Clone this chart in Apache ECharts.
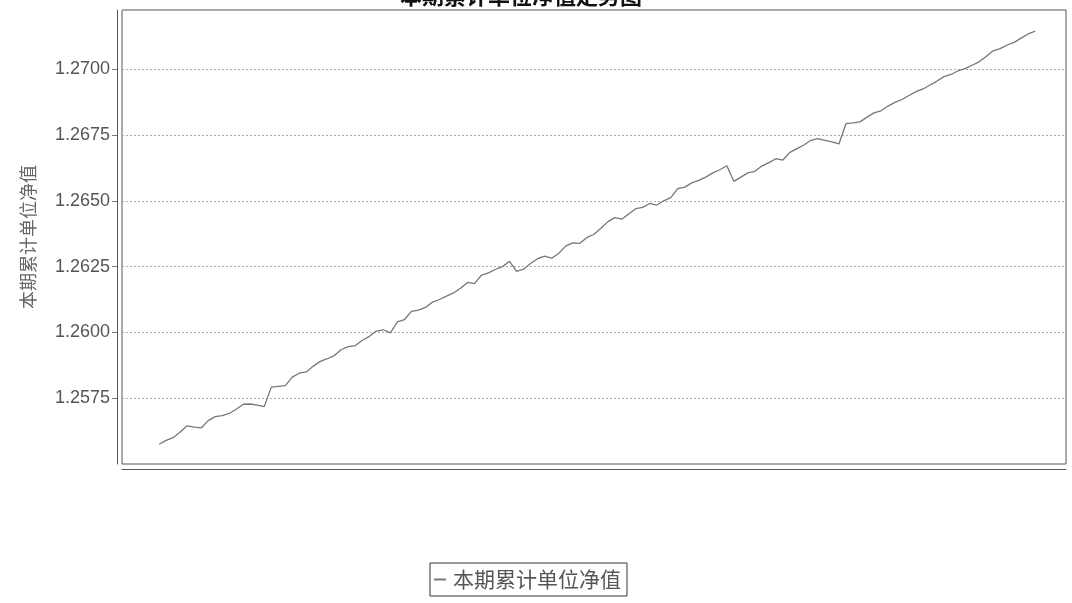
<!DOCTYPE html>
<html>
<head>
<meta charset="utf-8">
<script src="https://cdn.jsdelivr.net/npm/echarts@6/dist/echarts.min.js"></script>
<style>
html,body{margin:0;padding:0;background:#fff;}
#chart{width:1072px;height:603px;}
</style>
</head>
<body>
<div id="chart"></div>
<script>
// Title / names
const chartTitle = '本期累计单位净值走势图';
const seriesName = '本期累计单位净值';

// Y-axis range and tick step
const yMin = 1.2550;
const yMax = 1.27225;
const yStep = 0.0025;

// Daily cumulative unit NAV (left to right)
const navValues = [
  1.25575, 1.25590, 1.25600, 1.25622, 1.25645, 1.25640, 1.25637, 1.25665, 1.25680, 1.25684,
  1.25692, 1.25708, 1.25727, 1.25728, 1.25724, 1.25718, 1.25792, 1.25795, 1.25798, 1.25830,
  1.25845, 1.25850, 1.25872, 1.25890, 1.25900, 1.25912, 1.25935, 1.25946, 1.25950, 1.25970,
  1.25985, 1.26005, 1.26010, 1.25998, 1.26040, 1.26049, 1.26080, 1.26085, 1.26095, 1.26115,
  1.26125, 1.26138, 1.26150, 1.26168, 1.26190, 1.26185, 1.26218, 1.26226, 1.26240, 1.26250,
  1.26270, 1.26232, 1.26240, 1.26262, 1.26280, 1.26290, 1.26282, 1.26300, 1.26328, 1.26340,
  1.26338, 1.26360, 1.26372, 1.26395, 1.26420, 1.26436, 1.26430, 1.26450, 1.26470, 1.26475,
  1.26490, 1.26484, 1.26500, 1.26512, 1.26546, 1.26552, 1.26568, 1.26578, 1.26590, 1.26606,
  1.26618, 1.26633, 1.26574, 1.26590, 1.26606, 1.26612, 1.26632, 1.26645, 1.26660, 1.26655,
  1.26684, 1.26698, 1.26712, 1.26730, 1.26736, 1.26730, 1.26724, 1.26716, 1.26793, 1.26796,
  1.26800, 1.26818, 1.26834, 1.26842, 1.26860, 1.26874, 1.26885, 1.26900, 1.26915, 1.26925,
  1.26940, 1.26955, 1.26972, 1.26980, 1.26994, 1.27002, 1.27015, 1.27028, 1.27048, 1.27070,
  1.27078, 1.27092, 1.27102, 1.27118, 1.27134, 1.27145
];

const seriesData = navValues.map((v, i) => [i, v]);

const chart = echarts.init(document.getElementById('chart'), null, {renderer: 'canvas'});
chart.setOption({
  backgroundColor: '#ffffff',
  animation: false,
  title: {
    text: chartTitle,
    left: 395,
    top: -20,
    textStyle: {fontFamily: 'Noto Sans CJK SC', fontWeight: 'bold', fontSize: 22, color: '#111'}
  },
  legend: {
    data: [seriesName],
    left: 430,
    top: 563,
    icon: 'rect',
    itemWidth: 12,
    itemHeight: 2,
    itemGap: 4,
    padding: [6, 6, 6, 4],
    borderColor: '#333',
    borderWidth: 1,
    textStyle: {fontFamily: 'Noto Sans CJK SC', fontSize: 21, color: '#555', padding: [0,0,0,2]}
  },
  grid: {
    left: 122,
    top: 10,
    right: 6,
    bottom: 139,
    show: true,
    borderColor: '#555',
    borderWidth: 1,
    backgroundColor: '#fff'
  },
  xAxis: {
    type: 'value',
    min: -5.3,
    max: 129.4,
    offset: 5,
    axisLine: {show: true, onZero: false, lineStyle: {color: '#555', width: 1}},
    axisTick: {show: false},
    axisLabel: {show: false},
    splitLine: {show: false}
  },
  yAxis: {
    type: 'value',
    min: yMin,
    max: yMax,
    interval: yStep,
    offset: 5,
    name: seriesName,
    nameLocation: 'middle',
    nameGap: 80,
    nameRotate: 90,
    nameTextStyle: {fontFamily: 'Noto Sans CJK SC', fontSize: 18, color: '#666'},
    axisLine: {show: true, onZero: false, lineStyle: {color: '#555', width: 1}},
    axisTick: {show: true, inside: false, length: 5, lineStyle: {color: '#777'}},
    axisLabel: {
      showMinLabel: false,
      showMaxLabel: false,
      margin: 7,
      fontFamily: 'Liberation Sans',
      fontSize: 18,
      color: '#555',
      formatter: v => v.toFixed(4)
    },
    splitLine: {show: true, lineStyle: {color: '#aaa', type: [2, 2], width: 1}}
  },
  series: [{
    name: seriesName,
    type: 'line',
    data: seriesData,
    showSymbol: false,
    symbol: 'none',
    lineStyle: {color: '#777', width: 1.3},
    itemStyle: {color: '#777'}
  }]
});
</script>
</body>
</html>
